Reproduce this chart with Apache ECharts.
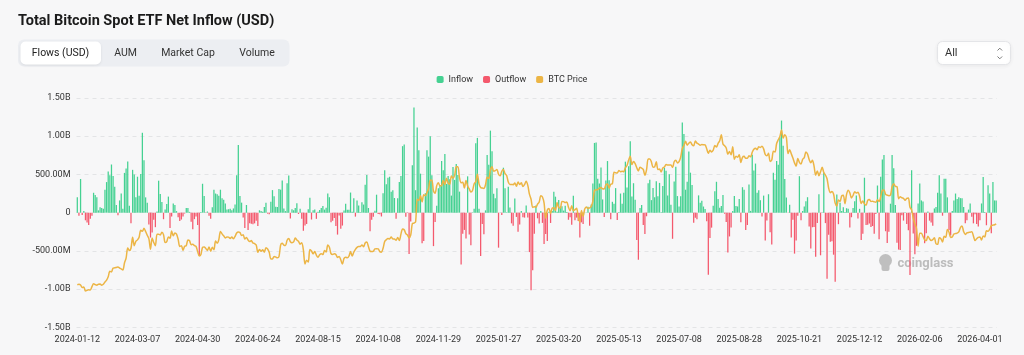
<!DOCTYPE html>
<html>
<head>
<meta charset="utf-8">
<script src="https://cdn.jsdelivr.net/npm/echarts@6/dist/echarts.min.js"></script>
<style>
html,body{margin:0;padding:0;background:#f7f7f8;}
#chart{width:1024px;height:355px;}
</style>
</head>
<body>
<div id="chart"></div>
<script>
// ---- categories: US trading days (NYSE) ----
const startDate = '2024-01-12';
const endDate = '2026-04-16';
const marketHolidays = ['2024-01-15','2024-02-19','2024-03-29','2024-05-27','2024-06-19','2024-07-04','2024-09-02','2024-11-28','2024-12-25',
  '2025-01-01','2025-01-09','2025-01-20','2025-02-17','2025-04-18','2025-05-26','2025-06-19','2025-07-04','2025-09-01','2025-11-27','2025-12-25',
  '2026-01-01','2026-01-19','2026-02-16','2026-04-03'];
const tabLabels = ['Flows (USD)', 'AUM', 'Market Cap', 'Volume'];
const legendNames = ['Inflow', 'Outflow', 'BTC Price'];

// ---- daily net flow, USD millions ----
const flows2024 = [
 200,-40,440,-30,20,-100,-130,-160,-80,-40,260,230,200,
 30,70,60,50,300,400,540,490,630,480,340,100,-35,160,250,50,520,577,670,90,
 -140,560,500,200,470,220,505,1045,684,200,130,-154,-326,-260,-94,-190,15,418,243,140,
 -86,40,113,210,-200,-50,120,100,20,-60,-110,-90,-50,-10,60,62,10,-120,-218,-85,-50,-160,
 -563,10,378,217,-5,15,-40,-80,70,300,250,240,222,300,190,170,120,40,45,50,30,55,
 105,488,886,217,131,-65,-200,100,-226,-140,-145,-152,-140,-105,-175,31,21,11,73,
 129,-13,-20,143,295,216,78,73,310,301,422,53,20,384,486,-78,45,31,60,124,-18,50,
 -80,-237,-168,-148,45,195,-90,33,40,-81,11,35,62,88,40,65,252,202,-127,-105,-71,-175,
 -287,-37,-211,-169,28,117,39,39,263,12,187,-52,158,92,4,136,106,365,494,61,
 -242,-92,-54,25,235,-18,-20,-50,253,555,371,458,470,273,294,192,-80,188,402,479,870,893,-54,
 -5,-541,-116,621,1376,294,1114,817,510,-400,-370,255,816,733,1000,490,-438,-122,90,320,
 353,676,556,766,376,479,438,223,597,428,637,493,275,-680,-277,-226,-338,475,-287,-426,5
];
const flows2025 = [
 52,908,978,52,-568,-149,-284,30,755,626,1073,802,248,188,318,-458,2,-30,588,319,
 5,340,66,-140,-171,186,-56,-251,-156,20,-60,-65,94,-63,-516,-1014,-755,-276,94,
 -74,-143,22,-134,-409,-280,-371,13,-135,20,274,209,11,165,80,84,27,89,10,-93,-60,
 -157,220,-99,-65,-110,-326,-127,-150,1,2,76,-171,107,381,912,917,442,380,591,173,-56,
 422,675,425,-86,142,117,321,-96,10,250,115,260,667,329,608,934,212,385,170,-358,-616,
 60,100,-160,-278,-47,386,431,164,322,200,412,216,389,6,350,588,548,226,501,102,
 -342,407,601,217,80,215,1180,1030,300,403,799,523,363,-131,-68,-86,226,131,157,80,47,-114,
 -812,-333,-196,91,281,404,178,65,86,230,-14,-122,-523,-311,-194,23,219,88,81,179,-126,
 333,301,-227,-160,368,23,757,553,642,260,292,163,-50,223,-363,-104,241,-258,-418,522,429,
 676,627,985,1205,875,441,198,-4,102,-326,-94,-536,-366,-40,477,-101,20,80,150,202,-180,-470,-191,
 -187,-578,-137,240,-558,1,524,-137,-866,-290,-380,-373,-550,-903,238,-151,128,21,71,
 8,58,50,-195,-60,60,150,223,-78,50,-357,-277,457,-161,-158,-142,-189,-175,-275,-19,355,-348
];
const flows2026 = [
 471,697,753,-243,-398,-250,117,753,580,100,-395,-483,-490,-33,-104,6,-147,-230,-815,555,
 -272,-545,-434,120,380,160,145,-400,-270,15,-105,-130,-170,55,75,260,490,250,-40,
 445,445,200,-230,-300,20,160,250,180,200,190,190,75,-140,-100,40,120,-55,-140,-20,-150,-180,
 -100,120,465,10,-165,360,250,-270,400,160,160
];

// ---- BTC price, USD thousands ----
const price2024 = [
 42.8,43.1,42.7,41.3,41.6,39.5,39.8,40.1,40.0,41.8,43.3,42.9,42.6,
 43.1,43.2,42.6,43.1,44.3,45.3,47.1,50.0,49.7,51.8,51.9,52.1,52.3,51.8,51.3,50.7,54.5,57.1,62.5,61.2,
 62.4,68.3,63.8,66.1,66.9,68.3,72.1,71.5,73.1,71.4,69.4,67.6,61.9,67.9,65.5,63.8,69.9,69.9,69.5,71.0,
 69.7,65.5,66.0,68.5,67.8,71.6,69.1,70.6,70.0,67.2,63.4,63.8,61.3,63.5,63.8,66.8,66.4,64.3,64.5,63.8,63.4,60.6,
 58.3,59.1,62.9,63.1,62.3,61.2,63.1,60.8,62.9,61.6,66.3,65.2,67.0,71.4,70.1,69.1,67.9,68.5,68.4,67.6,68.4,67.5,
 68.8,70.6,71.1,70.8,69.3,69.6,67.3,68.2,66.8,66.0,66.5,65.2,64.9,64.1,60.3,61.8,60.8,61.6,60.3,
 62.7,62.0,60.2,56.7,56.7,58.0,57.7,57.3,57.9,64.1,65.1,64.1,63.9,66.7,67.6,65.9,65.4,65.8,67.9,66.8,66.2,64.6,
 65.4,61.5,54.0,56.0,55.0,61.7,60.9,59.4,60.6,58.7,57.6,58.9,59.5,59.0,61.2,60.4,64.1,62.9,59.5,59.0,59.4,59.1,
 57.5,58.0,56.2,53.9,57.0,57.6,57.3,58.1,60.6,58.2,60.3,61.8,62.9,63.3,63.3,64.2,63.2,65.2,65.8,63.3,
 60.8,60.6,60.8,62.1,62.2,62.1,60.6,60.3,62.4,66.0,67.0,67.6,67.4,68.4,67.4,67.4,66.7,68.2,66.6,70.0,72.7,72.3,70.2,
 69.5,68.0,69.4,75.6,75.9,76.5,88.7,88.0,90.5,87.3,91.1,90.5,92.3,94.3,98.9,98.9,93.1,91.9,96.0,97.5,
 95.9,96.0,98.8,96.6,99.9,97.4,96.7,101.2,100.0,101.5,106.1,106.1,100.2,97.5,97.8,94.7,98.7,95.8,94.2,92.6,93.4
];
const price2025 = [
 96.9,98.1,102.1,96.9,95.0,94.7,94.5,96.5,100.5,99.8,104.4,106.1,103.7,104.0,104.7,102.1,101.3,103.7,104.7,102.4,
 101.4,97.9,96.6,96.6,96.5,97.4,95.7,97.9,96.6,97.5,95.5,96.6,98.3,96.1,91.4,88.7,84.3,84.7,84.4,
 86.1,87.2,90.6,89.9,86.7,78.5,82.9,83.7,81.1,83.9,84.1,82.7,86.9,84.2,84.0,87.5,87.4,86.9,87.2,84.4,82.5,
 85.2,82.5,83.1,83.8,79.2,76.3,82.6,79.6,83.4,84.5,83.7,84.0,84.9,87.5,93.4,93.7,93.9,94.7,95.0,94.3,94.2,
 96.5,96.9,94.7,96.8,97.0,103.2,102.9,102.8,104.1,103.5,103.7,103.5,105.6,106.8,109.7,111.7,107.3,108.9,107.8,105.6,103.9,
 105.8,105.4,104.7,101.5,104.4,110.3,110.3,108.7,105.9,106.1,108.8,104.6,104.9,103.3,105.5,106.0,107.3,107.1,107.1,107.1,
 105.7,108.8,109.6,108.2,108.9,111.3,115.9,117.5,119.8,117.7,118.7,119.4,117.9,117.4,119.9,118.8,118.3,117.6,118.0,117.9,117.8,115.8,
 113.3,115.0,114.1,115.0,117.5,116.7,118.7,120.1,123.3,118.3,117.4,116.2,112.9,114.3,112.5,116.9,110.1,111.8,111.2,112.6,108.4,
 111.2,111.7,110.7,110.7,112.0,111.5,113.9,115.5,116.1,115.3,116.8,116.5,117.1,115.7,112.7,112.0,113.3,109.0,109.7,114.4,114.0,
 118.6,120.6,122.3,125.8,121.5,123.3,121.7,113.2,115.3,113.1,110.8,108.2,106.5,110.6,108.5,107.6,110.1,111.0,114.1,113.0,110.0,108.3,109.6,
 106.5,101.6,103.9,101.3,103.4,105.9,103.0,101.7,99.7,94.6,92.2,92.9,91.5,86.6,85.1,88.3,87.4,90.5,90.9,
 86.3,91.3,93.5,92.1,89.4,90.7,92.7,92.0,92.5,90.3,86.4,87.8,86.2,85.5,88.1,88.6,87.5,87.6,87.3,87.1,88.4,87.5
];
const price2026 = [
 90.0,93.5,93.7,91.3,90.9,90.6,91.0,95.4,97.0,95.6,95.5,89.0,90.0,89.5,89.2,88.1,89.1,89.3,84.4,83.0,
 78.5,75.5,73.0,63.5,70.5,70.5,68.8,67.0,66.5,68.9,67.5,66.5,67.0,68.0,64.8,64.5,68.0,67.5,65.8,
 68.8,68.3,72.5,71.0,68.2,68.5,70.0,70.3,70.5,71.2,73.5,74.3,71.3,69.8,70.6,70.9,71.0,71.3,69.0,66.5,67.5,68.2,
 68.5,66.8,69.0,68.5,71.8,71.5,72.6,74.5,74.8,75.0,75.5
];

function buildTradingDays(start, end, holidays) {
  const out = [];
  const hol = new Set(holidays);
  const d = new Date(start + 'T00:00:00Z');
  const e = new Date(end + 'T00:00:00Z');
  while (d <= e) {
    const wd = d.getUTCDay();
    const s = d.toISOString().slice(0, 10);
    if (wd !== 0 && wd !== 6 && !hol.has(s)) out.push(s);
    d.setUTCDate(d.getUTCDate() + 1);
  }
  return out;
}
const categories = buildTradingDays(startDate, endDate, marketHolidays);
const flows = flows2024.concat(flows2025, flows2026);
const btcPrice = price2024.concat(price2025, price2026);
if (categories.length !== flows.length || flows.length !== btcPrice.length) {
  throw new Error('length mismatch ' + categories.length + ' ' + flows.length + ' ' + btcPrice.length);
}
const inflow = flows.map(v => v > 0 ? v : '-');
const outflow = flows.map(v => v < 0 ? v : '-');

const GREEN = '#45d192', RED = '#f4596d', GOLD = '#ecb545';
const FONT = 'Roboto, "Noto Sans", sans-serif';

function fmtAxis(v) {
  if (v === 0) return '0';
  if (Math.abs(v) >= 1000) return (v / 1000).toFixed(2) + 'B';
  return v.toFixed(2) + 'M';
}

const tabX = [60.5, 125.5, 188, 257];
const graphics = [
  { type: 'rect', shape: { x: 18, y: 39.5, width: 271.5, height: 27, r: 6 }, style: { fill: '#eceef2' }, silent: true },
  { type: 'rect', shape: { x: 20.5, y: 41.5, width: 80.5, height: 23, r: 5 }, style: { fill: '#ffffff', shadowBlur: 3, shadowColor: 'rgba(0,0,0,0.08)', shadowOffsetY: 1 }, silent: true },
  { type: 'rect', shape: { x: 937.5, y: 41.5, width: 73, height: 23, r: 5 }, style: { fill: '#ffffff', stroke: '#e4e5e8', lineWidth: 1, shadowBlur: 4, shadowColor: 'rgba(0,0,0,0.06)', shadowOffsetY: 1 }, silent: true },
  { type: 'text', x: 945, y: 53.5, style: { text: 'All', fontSize: 11, fontFamily: FONT, fill: '#333', textVerticalAlign: 'middle' }, silent: true },
  { type: 'polyline', shape: { points: [[997.5, 50.5], [999.8, 48.2], [1002.1, 50.5]] }, style: { stroke: '#777', lineWidth: 1, fill: null }, silent: true },
  { type: 'polyline', shape: { points: [[997.5, 56.5], [999.8, 58.8], [1002.1, 56.5]] }, style: { stroke: '#777', lineWidth: 1, fill: null }, silent: true },
  // watermark
  { type: 'circle', shape: { cx: 885.5, cy: 260.5, r: 6.5 }, style: { fill: '#bfbfbf' }, silent: true, z: 0 },
  { type: 'rect', shape: { x: 881.5, y: 262, width: 8, height: 9, r: 2 }, style: { fill: '#bfbfbf' }, silent: true, z: 0 },
  { type: 'text', x: 897.5, y: 263.5, style: { text: 'coinglass', fontSize: 13, fontWeight: 'bold', fontFamily: FONT, fill: '#bcbcbc', textVerticalAlign: 'middle' }, silent: true, z: 0 }
];
tabLabels.forEach((t, k) => {
  graphics.push({ type: 'text', x: tabX[k], y: 53.5, style: { text: t, fontSize: 10.5, fontFamily: FONT, fill: k === 0 ? '#222' : '#333', textAlign: 'center', textVerticalAlign: 'middle' }, silent: true });
});

const chart = echarts.init(document.getElementById('chart'), null, { renderer: 'canvas' });
chart.setOption({
  backgroundColor: '#f7f7f8',
  animation: false,
  title: {
    text: 'Total Bitcoin Spot ETF Net Inflow (USD)',
    left: 13, top: 9,
    textStyle: { fontSize: 14.5, fontWeight: 'bold', color: '#1b1b1b', fontFamily: FONT }
  },
  legend: {
    data: legendNames,
    left: 'center', top: 70,
    icon: 'roundRect',
    itemWidth: 7, itemHeight: 7, itemGap: 10,
    textStyle: { fontSize: 9, color: '#333', fontFamily: FONT }
  },
  graphic: graphics,
  grid: { left: 76.5, right: 27, top: 98, bottom: 27.7, containLabel: false },
  xAxis: {
    type: 'category',
    data: categories,
    boundaryGap: true,
    axisLine: { show: false },
    axisTick: { show: false },
    axisLabel: { interval: 36, fontSize: 9, color: '#333', fontFamily: FONT, margin: 8 },
    splitLine: { show: false }
  },
  yAxis: [
    {
      type: 'value', min: -1500, max: 1500, interval: 500,
      axisLine: { show: false }, axisTick: { show: false },
      axisLabel: { formatter: fmtAxis, fontSize: 9, color: '#333', fontFamily: FONT, margin: 6 },
      splitLine: { show: true, lineStyle: { color: '#e3e4e6', type: [4, 4], width: 1 } }
    },
    {
      type: 'value', min: 20, max: 143, show: false,
      splitLine: { show: false }
    }
  ],
  series: [
    {
      name: 'Inflow', type: 'bar', data: inflow, yAxisIndex: 0,
      barWidth: '78%', barGap: '-100%',
      itemStyle: { color: GREEN }
    },
    {
      name: 'Outflow', type: 'bar', data: outflow, yAxisIndex: 0,
      barWidth: '78%', barGap: '-100%',
      itemStyle: { color: RED }
    },
    {
      name: 'BTC Price', type: 'line', data: btcPrice, yAxisIndex: 1,
      showSymbol: false, symbol: 'none', smooth: 0.3,
      lineStyle: { color: GOLD, width: 1.5 }, itemStyle: { color: GOLD }, z: 3
    }
  ]
});
</script>
</body>
</html>
